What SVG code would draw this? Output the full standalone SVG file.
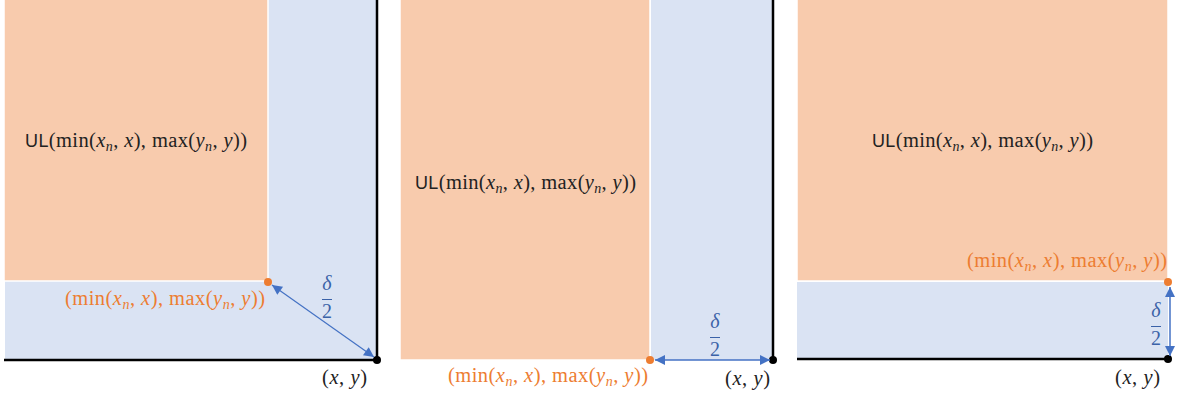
<svg xmlns="http://www.w3.org/2000/svg" width="1184" height="396" viewBox="0 0 1184 396">
<style>
.orng{fill:#F8CBAD;stroke:#FFFFFF;stroke-width:1.5}
.blue{fill:#DAE3F3;stroke:none}
.axis{stroke:#000;stroke-width:2.5;fill:none}
.arr{stroke:#4472C4;fill:none}
.m{font-family:"Liberation Serif",serif;font-size:20.5px}
.s{font-family:"Liberation Sans",sans-serif;font-size:18px}
.i{font-style:italic}
.lbl{fill:#222}
.olbl{fill:#ED7D31}
.dl{fill:#3A62A8;font-family:"Liberation Serif",serif;font-size:20px;text-anchor:middle}
.bar{stroke:#3A62A8;stroke-width:1}
</style>
<defs>
<marker id="ah" viewBox="0 0 10 10" refX="10" refY="5" markerWidth="12" markerHeight="10" markerUnits="userSpaceOnUse" orient="auto-start-reverse">
<path d="M0,0 L10,5 L0,10 z" fill="#4472C4"/>
</marker>
</defs>

<g id="panel1">
<rect class="blue" x="5" y="0" width="372" height="360"/>
<rect class="orng" x="4" y="-2" width="264" height="283"/>
<path class="axis" d="M377,0 V360 H4"/>
<circle cx="268" cy="282" r="4" fill="#ED7D31"/>
<circle cx="377" cy="360" r="4" fill="#000"/>
<text class="m lbl" x="25" y="147" textLength="222" lengthAdjust="spacing"><tspan class="s">UL</tspan>(min(<tspan class="i">x</tspan><tspan class="i" font-size="14" dy="4">n</tspan><tspan dy="-4">, </tspan><tspan class="i">x</tspan>), max(<tspan class="i">y</tspan><tspan class="i" font-size="14" dy="4">n</tspan><tspan dy="-4">, </tspan><tspan class="i">y</tspan>))</text>
<text class="m olbl" x="65" y="305" textLength="200" lengthAdjust="spacing">(min(<tspan class="i">x</tspan><tspan class="i" font-size="14" dy="4">n</tspan><tspan dy="-4">, </tspan><tspan class="i">x</tspan>), max(<tspan class="i">y</tspan><tspan class="i" font-size="14" dy="4">n</tspan><tspan dy="-4">, </tspan><tspan class="i">y</tspan>))</text>
<text class="m lbl" x="322" y="384" textLength="45" lengthAdjust="spacing">(<tspan class="i">x</tspan>, <tspan class="i">y</tspan>)</text>
<text class="dl i" x="327" y="290">δ</text>
<line class="bar" x1="322" y1="299.5" x2="332" y2="299.5"/>
<text class="dl" x="327" y="318">2</text>
</g>

<g id="panel2">
<rect class="orng" x="400" y="-2" width="250" height="362"/>
<rect class="blue" x="651" y="0" width="122" height="360"/>
<path class="axis" d="M773,0 V360"/>
<circle cx="650" cy="360" r="4" fill="#ED7D31"/>
<circle cx="773" cy="360" r="4" fill="#000"/>
<text class="m lbl" x="415" y="189" textLength="221" lengthAdjust="spacing"><tspan class="s">UL</tspan>(min(<tspan class="i">x</tspan><tspan class="i" font-size="14" dy="4">n</tspan><tspan dy="-4">, </tspan><tspan class="i">x</tspan>), max(<tspan class="i">y</tspan><tspan class="i" font-size="14" dy="4">n</tspan><tspan dy="-4">, </tspan><tspan class="i">y</tspan>))</text>
<text class="m olbl" x="448" y="382" textLength="200" lengthAdjust="spacing">(min(<tspan class="i">x</tspan><tspan class="i" font-size="14" dy="4">n</tspan><tspan dy="-4">, </tspan><tspan class="i">x</tspan>), max(<tspan class="i">y</tspan><tspan class="i" font-size="14" dy="4">n</tspan><tspan dy="-4">, </tspan><tspan class="i">y</tspan>))</text>
<text class="m lbl" x="725" y="385" textLength="45" lengthAdjust="spacing">(<tspan class="i">x</tspan>, <tspan class="i">y</tspan>)</text>
<text class="dl i" x="715" y="328">δ</text>
<line class="bar" x1="710" y1="337.5" x2="720" y2="337.5"/>
<text class="dl" x="715" y="356">2</text>
</g>

<g id="panel3">
<rect class="orng" x="797" y="-2" width="371" height="283"/>
<rect class="blue" x="797" y="282" width="371" height="77"/>
<path class="axis" d="M797,359 H1168"/>
<circle cx="1168" cy="282" r="4" fill="#ED7D31"/>
<circle cx="1168" cy="359" r="4" fill="#000"/>
<text class="m lbl" x="872" y="147" textLength="221" lengthAdjust="spacing"><tspan class="s">UL</tspan>(min(<tspan class="i">x</tspan><tspan class="i" font-size="14" dy="4">n</tspan><tspan dy="-4">, </tspan><tspan class="i">x</tspan>), max(<tspan class="i">y</tspan><tspan class="i" font-size="14" dy="4">n</tspan><tspan dy="-4">, </tspan><tspan class="i">y</tspan>))</text>
<text class="m olbl" x="967" y="267" textLength="200" lengthAdjust="spacing">(min(<tspan class="i">x</tspan><tspan class="i" font-size="14" dy="4">n</tspan><tspan dy="-4">, </tspan><tspan class="i">x</tspan>), max(<tspan class="i">y</tspan><tspan class="i" font-size="14" dy="4">n</tspan><tspan dy="-4">, </tspan><tspan class="i">y</tspan>))</text>
<text class="m lbl" x="1115" y="384" textLength="45" lengthAdjust="spacing">(<tspan class="i">x</tspan>, <tspan class="i">y</tspan>)</text>
<text class="dl i" x="1156" y="317">δ</text>
<line class="bar" x1="1151" y1="326.5" x2="1161" y2="326.5"/>
<text class="dl" x="1156" y="345">2</text>
</g>

<g id="connectors">
<line class="arr" stroke-width="1.2" x1="272" y1="285" x2="374" y2="357" marker-start="url(#ah)" marker-end="url(#ah)"/>
<line class="arr" stroke-width="1.5" x1="655" y1="360" x2="770" y2="360" marker-start="url(#ah)" marker-end="url(#ah)"/>
<line class="arr" stroke-width="1.5" x1="1170" y1="287" x2="1170" y2="356" marker-start="url(#ah)" marker-end="url(#ah)"/>
</g>
</svg>
